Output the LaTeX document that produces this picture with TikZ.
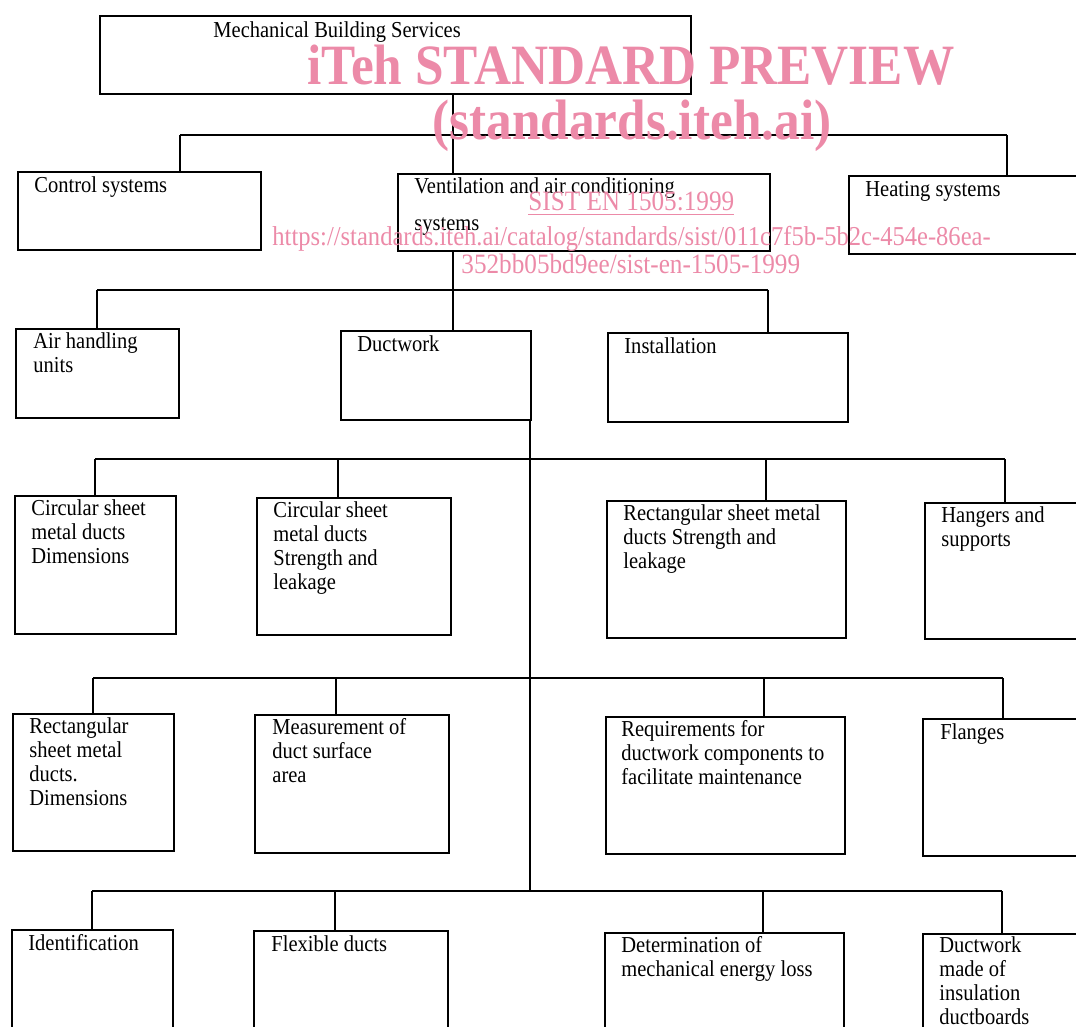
\documentclass[tikz,border=0pt]{standalone}
\usepackage{fontspec}
\setmainfont[FakeStretch=0.9]{Liberation Serif}
\definecolor{wmpink}{RGB}{236,138,168}
\newcommand\boxfont{\fontsize{11.4}{12}\selectfont}
\newcommand\wmbig{\fontsize{28.5}{30}\selectfont\bfseries}
\newcommand\wmsmall{\fontsize{14}{16}\selectfont}
\tikzset{
  box/.style 2 args={draw, line width=1.2pt, rectangle, anchor=north west,
    inner sep=0pt, minimum width=#1*0.5pt, minimum height=#2*0.5pt},
  txt/.style={anchor=north west, inner sep=0pt, align=left, font=\boxfont,
    execute at begin node=\strut},
  wire/.style={line width=1pt},
  wm/.style={anchor=base west, inner sep=0pt, text=wmpink},
}

\begin{document}
\begin{tikzpicture}[x=0.5pt, y=-0.5pt]
    \useasboundingbox (0,0) rectangle (1076,1027);
    \clip (0,0) rectangle (1076,1027);

    % Top level
    \node[box={591}{78}] (mbs) at (99,15) {};
    \node[box={243}{78}] (ctrl) at (17,171) {};
    \node[box={372}{77}] (vent) at (397,173) {};
    \node[box={240}{78}] (heat) at (848,175) {};

    % Ventilation
    \node[box={163}{89}] (ahu) at (15,328) {};
    \node[box={190}{89}] (duct) at (340,330) {};
    \node[box={240}{89}] (inst) at (607,332) {};

    % Ductwork, first row
    \node[box={161}{138}] (cdim) at (14,495) {};
    \node[box={194}{137}] (cstr) at (256,497) {};
    \node[box={239}{137}] (rstr) at (606,500) {};
    \node[box={160}{136}] (hang) at (924,502) {};

    % Ductwork, second row
    \node[box={161}{137}] (rdim) at (12,713) {};
    \node[box={194}{138}] (meas) at (254,714) {};
    \node[box={239}{137}] (req) at (605,716) {};
    \node[box={160}{137}] (flan) at (922,718) {};

    % Ductwork, third row
    \node[box={161}{140}] (iden) at (11,929) {};
    \node[box={194}{140}] (flex) at (253,930) {};
    \node[box={239}{140}] (det) at (604,932) {};
    \node[box={160}{140}] (board) at (922,933) {};

    % Texts
    \node[txt] (mbs-t) at ([shift={(114,5)}]mbs.north west) {Mechanical Building Services};
    \node[txt] (ctrl-t) at ([shift={(17,4)}]ctrl.north west) {Control systems};
    \node[txt] (vent-t) at ([shift={(17,4)}]vent.north west) {Ventilation and air conditioning\\[6.5pt]systems};
    \node[txt] (heat-t) at ([shift={(17,4)}]heat.north west) {Heating systems};
    \node[txt] (ahu-t) at ([shift={(18,4)}]ahu.north west) {Air handling\\units};
    \node[txt] (duct-t) at ([shift={(17,4)}]duct.north west) {Ductwork};
    \node[txt] (inst-t) at ([shift={(17,4)}]inst.north west) {Installation};
    \node[txt] (cdim-t) at ([shift={(17,4)}]cdim.north west) {Circular sheet\\metal ducts\\Dimensions};
    \node[txt] (cstr-t) at ([shift={(17,4)}]cstr.north west) {Circular sheet\\metal ducts\\Strength and\\leakage};
    \node[txt] (rstr-t) at ([shift={(17,4)}]rstr.north west) {Rectangular sheet metal\\ducts Strength and\\leakage};
    \node[txt] (hang-t) at ([shift={(17,4)}]hang.north west) {Hangers and\\supports};
    \node[txt] (rdim-t) at ([shift={(17,4)}]rdim.north west) {Rectangular\\sheet metal\\ducts.\\Dimensions};
    \node[txt] (meas-t) at ([shift={(18,4)}]meas.north west) {Measurement of\\duct surface\\area};
    \node[txt] (req-t) at ([shift={(16,4)}]req.north west) {Requirements for\\ductwork components to\\facilitate maintenance};
    \node[txt] (flan-t) at ([shift={(18,4)}]flan.north west) {Flanges};
    \node[txt] (iden-t) at ([shift={(17,4)}]iden.north west) {Identification};
    \node[txt] (flex-t) at ([shift={(18,4)}]flex.north west) {Flexible ducts};
    \node[txt] (det-t) at ([shift={(17,4)}]det.north west) {Determination of\\mechanical energy loss};
    \node[txt] (board-t) at ([shift={(17,3)}]board.north west) {Ductwork\\made of\\insulation\\ductboards};

    % Bus lines
    \coordinate (t1) at (453,135);
    \coordinate (b1l) at (180,135); \coordinate (b1r) at (1007,135);
    \coordinate (b2l) at (97,290); \coordinate (b2r) at (768,290);
    \coordinate (b3a) at (95,459); \coordinate (b3b) at (338,459);
    \coordinate (b3c) at (766,459); \coordinate (b3d) at (1005,459);
    \coordinate (b4a) at (93,678); \coordinate (b4b) at (336,678);
    \coordinate (b4c) at (764,678); \coordinate (b4d) at (1003,678);
    \coordinate (b5a) at (92,891); \coordinate (b5b) at (335,891);
    \coordinate (b5c) at (763,891); \coordinate (b5d) at (1002,891);
    \coordinate (t2) at (530,891);

    \draw[wire] (t1 |- mbs.south) -- (t1 |- vent.north);
    \draw[wire] (t1 |- vent.south) -- (t1 |- duct.north);
    \draw[wire] (t2 |- duct.south) -- (t2);
    \draw[wire] (b1l) -- (b1r);
    \draw[wire] (b2l) -- (b2r);
    \draw[wire] (b3a) -- (b3d);
    \draw[wire] (b4a) -- (b4d);
    \draw[wire] (b5a) -- (b5d);
    \foreach \c/\n in {b1l/ctrl, b1r/heat, b2l/ahu, b2r/inst,
        b3a/cdim, b3b/cstr, b3c/rstr, b3d/hang,
        b4a/rdim, b4b/meas, b4c/req, b4d/flan,
        b5a/iden, b5b/flex, b5c/det, b5d/board}
      \draw[wire] (\c) -- (\c |- \n.north);

    % Watermark
    \node[wm, font=\wmbig] (wm-title) at (307,85) {iTeh STANDARD PREVIEW};
    \node[wm, font=\wmbig] (wm-site) at (432,140) {(standards.iteh.ai)};
    \node[wm, font=\wmsmall] (wm-code) at (528,211) {\underline{SIST EN 1505:1999}};
    \node[wm, font=\fontsize{13.65}{16}\selectfont] (wm-url1) at (272,246) {https://standards.iteh.ai/catalog/standards/sist/011c7f5b-5b2c-454e-86ea-};
    \node[wm, font=\wmsmall] (wm-url2) at (461,274) {352bb05bd9ee/sist-en-1505-1999};
\end{tikzpicture}
\end{document}
